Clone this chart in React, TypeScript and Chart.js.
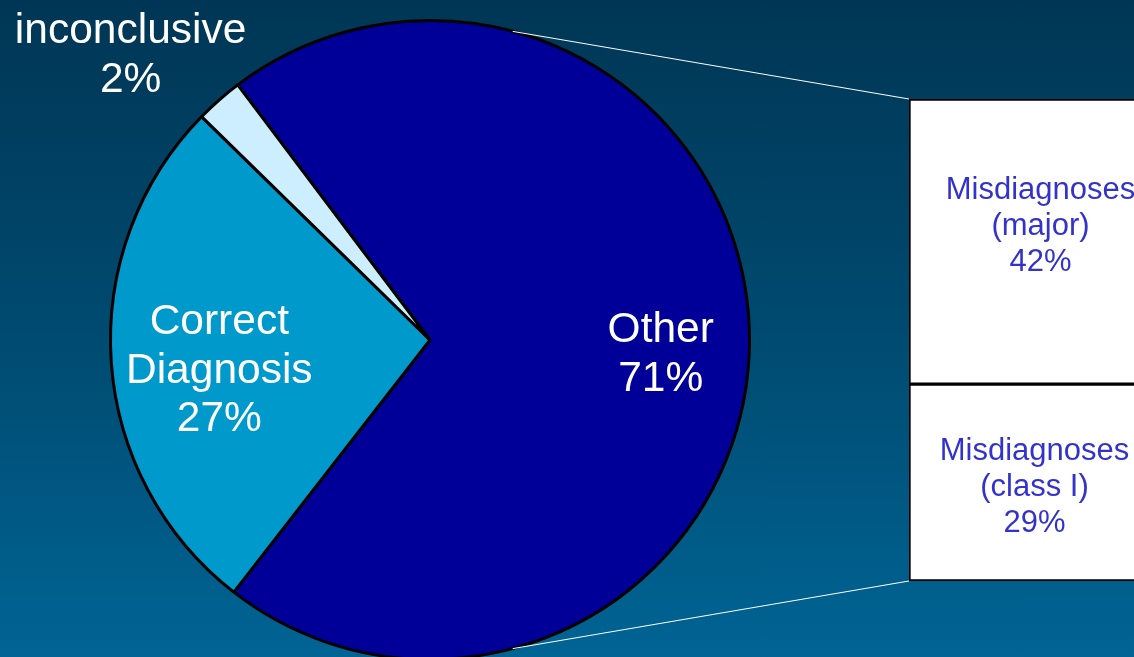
import React, { useEffect, useRef } from 'react';
import { Chart, registerables } from 'chart.js';

Chart.register(...registerables);

// ---- data ----
const pieLabels = ['Other', 'Correct\nDiagnosis', 'inconclusive'];
const pieValues = [70.8, 26.8, 2.4];
const pieColors = ['#000099', '#0099cc', '#cceeff'];

const barLabels = ['Misdiagnoses\n(class I)', 'Misdiagnoses\n(major)'];
const barValues = [29, 42];
const barColors = ['#ffffff', '#ffffff'];

// ---- layout / style ----
const FONT = '"Liberation Sans", Arial, Helvetica, sans-serif';
const pieLabelPlacement = [
  { angle: 2.3, r: 0.723 },
  { angle: -3.5, r: 0.665 },
  { angle: -4.8, r: 1.3 },
];
const barLabelOffset = [
  { dx: -3, dy: 2.3 },
  { dx: 3, dy: -17.7 },
];
const CONNECTOR_ANGLE = 75;

export default function App() {
  const pieRef = useRef<HTMLCanvasElement | null>(null);
  const barRef = useRef<HTMLCanvasElement | null>(null);

  useEffect(() => {
    if (!pieRef.current || !barRef.current) return;

    const pieLabelPlugin = {
      id: 'pieLabels',
      afterDatasetsDraw(chart: any) {
        const ctx = chart.ctx;
        const meta = chart.getDatasetMeta(0);
        const size = 42.5;
        const L = 48.5;
        const cap = size * 0.716;
        ctx.save();
        ctx.font = `${size}px ${FONT}`;
        ctx.fillStyle = '#ffffff';
        ctx.textAlign = 'center';
        ctx.textBaseline = 'alphabetic';
        meta.data.forEach((arc: any, i: number) => {
          const p = arc.getProps(['x', 'y', 'startAngle', 'endAngle', 'outerRadius'], true);
          const a = (p.startAngle + p.endAngle) / 2 + (pieLabelPlacement[i].angle * Math.PI) / 180;
          const r = p.outerRadius * pieLabelPlacement[i].r;
          const cx = p.x + r * Math.cos(a);
          const cy = p.y + r * Math.sin(a);
          const lines = [...pieLabels[i].split('\n'), Math.round(pieValues[i]) + '%'];
          lines.forEach((t, j) => {
            ctx.fillText(t, cx, cy - ((lines.length - 1) * L) / 2 + cap / 2 + j * L);
          });
        });
        ctx.restore();
      },
    };

    const pie = new Chart(pieRef.current, {
      type: 'pie',
      data: {
        labels: pieLabels.map((l) => l.replace('\n', ' ')),
        datasets: [
          {
            data: pieValues,
            backgroundColor: pieColors,
            borderColor: '#000000',
            borderWidth: 3,
          },
        ],
      },
      options: {
        responsive: false,
        animation: false,
        events: [],
        rotation: -37,
        layout: { padding: { left: 109, right: 383, top: 19, bottom: 19 } },
        plugins: { legend: { display: false }, tooltip: { enabled: false } },
      },
      plugins: [pieLabelPlugin],
    });

    const barPlugin = {
      id: 'barExtras',
      afterDatasetsDraw(chart: any) {
        const ctx = chart.ctx;
        // connector lines
        const arc: any = pie.getDatasetMeta(0).data[0];
        const cx = arc.x;
        const cy = arc.y;
        const R = arc.outerRadius;
        const ang = (CONNECTOR_ANGLE * Math.PI) / 180;
        const bottomBar: any = chart.getDatasetMeta(0).data[0];
        const topBar: any = chart.getDatasetMeta(barValues.length - 1).data[0];
        const left = topBar.x - topBar.width / 2;
        ctx.save();
        ctx.strokeStyle = '#ffffff';
        ctx.lineWidth = 1;
        ctx.beginPath();
        ctx.moveTo(cx + R * Math.cos(-ang), cy + R * Math.sin(-ang));
        ctx.lineTo(left, topBar.y);
        ctx.moveTo(cx + R * Math.cos(ang), cy + R * Math.sin(ang));
        ctx.lineTo(left, bottomBar.base);
        ctx.stroke();

        // labels
        const size = 31;
        const L = 36;
        const cap = size * 0.716;
        ctx.font = `${size}px ${FONT}`;
        ctx.fillStyle = '#3333cc';
        ctx.textAlign = 'center';
        ctx.textBaseline = 'alphabetic';
        barValues.forEach((v, i) => {
          const el: any = chart.getDatasetMeta(i).data[0];
          const x = el.x + barLabelOffset[i].dx;
          const y = (el.y + el.base) / 2 + barLabelOffset[i].dy;
          const lines = [...barLabels[i].split('\n'), Math.round(v) + '%'];
          lines.forEach((t, j) => {
            ctx.fillText(t, x, y - ((lines.length - 1) * L) / 2 + cap / 2 + j * L);
          });
        });
        ctx.restore();
      },
    };

    const bar = new Chart(barRef.current, {
      type: 'bar',
      data: {
        labels: [''],
        datasets: barValues.map((v, i) => ({
          label: barLabels[i].replace('\n', ' '),
          data: [v],
          backgroundColor: barColors[i],
          borderColor: '#000000',
          borderWidth: 2,
          borderSkipped: false,
          barPercentage: 1,
          categoryPercentage: 1,
        })),
      },
      options: {
        responsive: false,
        animation: false,
        events: [],
        layout: { padding: { left: 909, right: 134, top: 99, bottom: 76 } },
        scales: {
          x: { display: false, stacked: true },
          y: {
            display: false,
            stacked: true,
            min: 0,
            max: barValues.reduce((a, b) => a + b, 0),
          },
        },
        plugins: { legend: { display: false }, tooltip: { enabled: false } },
      },
      plugins: [barPlugin],
    });

    return () => {
      bar.destroy();
      pie.destroy();
    };
  }, []);

  return (
    <div
      style={{
        position: 'fixed',
        left: 0,
        top: 0,
        width: '100vw',
        height: '100vh',
        overflow: 'hidden',
        background: 'linear-gradient(to bottom, #003655 0%, #004a70 50%, #006494 100%)',
      }}
    >
      <canvas
        ref={pieRef}
        width={1134}
        height={680}
        style={{ position: 'absolute', left: 0, top: 0, width: 1134, height: 680, display: 'block' }}
      />
      <canvas
        ref={barRef}
        width={1300}
        height={657}
        style={{ position: 'absolute', left: 0, top: 0, width: 1300, height: 657, display: 'block' }}
      />
    </div>
  );
}
